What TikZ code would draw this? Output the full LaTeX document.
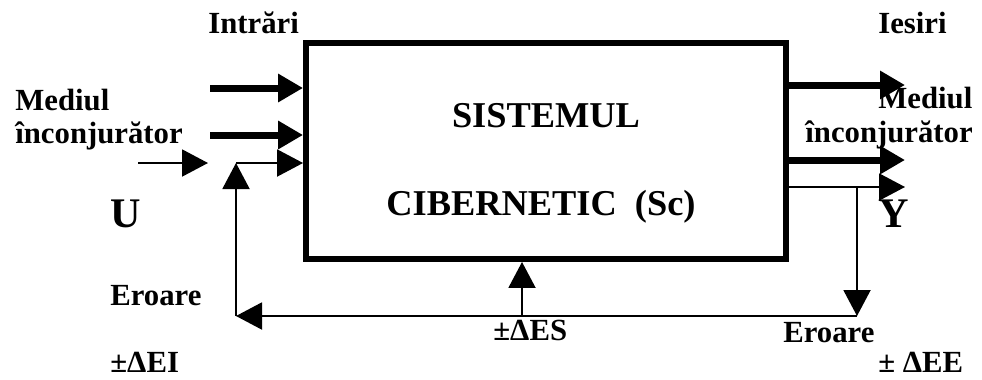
\documentclass[tikz,border=0pt]{standalone}
\usepackage{fontspec}
\setmainfont{Liberation Serif}
\usetikzlibrary{arrows.meta,positioning}

\begin{document}
\begin{tikzpicture}[x=0.02cm,y=-0.02cm,
  sc/.style={draw,line width=0.12cm,minimum width=9.6cm,minimum height=4.32cm,inner sep=0},
  fat/.style={line width=0.14cm,-{Triangle[length=0.5cm,width=0.54cm]}},
  ln/.style={line width=0.04cm,-{Triangle[length=0.52cm,width=0.54cm]}},
  lb/.style={font=\fontsize{17.5}{20}\selectfont\bfseries,inner sep=0,anchor=base west},
  ttl/.style={font=\fontsize{20.7}{24}\selectfont\bfseries,inner sep=0,anchor=base},
  sym/.style={font=\fontsize{24}{28}\selectfont\bfseries,inner sep=0,anchor=base}
]
\useasboundingbox (0,0) rectangle (982,379);

% the system block
\node[sc] (sys) at (546,151) {};
\node[ttl] (t1) at (546,127) {SISTEMUL};
\node[ttl] (t2) at (541,215) {CIBERNETIC\ \ (Sc)};

% labels
\node[lb] (intr) at (208,33) {Intrări};
\node[lb] (ies) at (878,33) {Iesiri};
\node[lb] (med1) at (15,110) {Mediul};
\node[lb] (inc1) at (15,143) {înconjurător};
\node[lb] (med2) at (878,108) {Mediul};
\node[lb] (inc2) at (805,142) {înconjurător};
\node[sym] (u) at (126,227) {U};
\node[sym] (y) at (894,227) {Y};
\node[lb] (er1) at (110,305) {Eroare};
\node[lb] (dei) at (110,372) {±ΔEI};
\node[lb] (des) at (493,340) {±ΔES};
\node[lb] (er2) at (783,342) {Eroare};
\node[lb] (dee) at (878,372) {± ΔEE};

% free ends
\coordinate (in1) at (210,88);
\coordinate (in2) at (210,135);
\coordinate (u0) at (138,163);
\coordinate (u1) at (208,163);
\coordinate (fbt) at (236,163);
\coordinate (fbl) at (236,316);
\coordinate (fbr) at (857,316);
\coordinate (yt) at (857,187);
\coordinate (out1) at (905,85);
\coordinate (out2) at (905,160);
\coordinate (out3) at (905,187);
\coordinate (es) at (522,316);

% inputs
\draw[fat] (in1) -- (in1 -| sys.west);
\draw[fat] (in2) -- (in2 -| sys.west);
\draw[ln] (u0) -- (u1);
\draw[ln] (fbt) -- (fbt -| sys.west);

% outputs
\draw[fat] (out1 -| sys.east) -- (out1);
\draw[fat] (out2 -| sys.east) -- (out2);
\draw[ln] (out3 -| sys.east) -- (out3);

% error feedback
\draw[ln] (yt) -- (fbr);
\draw[ln] (fbr) -- (fbl);
\draw[ln] (fbl) -- (fbt);
\draw[ln] (es) -- (es |- sys.south);
\end{tikzpicture}
\end{document}
